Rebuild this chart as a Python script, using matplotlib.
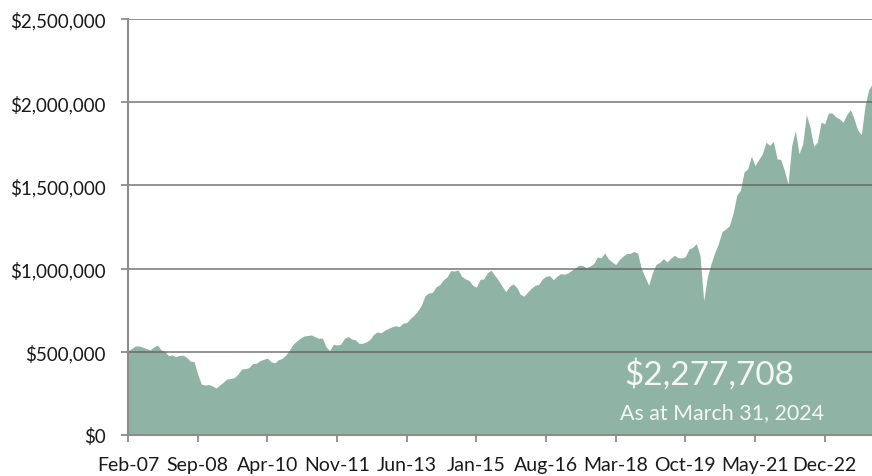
import matplotlib
matplotlib.use("Agg")
import matplotlib.pyplot as plt
from matplotlib.ticker import FuncFormatter

# monthly portfolio value, Feb 2007 .. Mar 2024 (in $000s)
values_k = [
    506, 520, 535, 535, 528, 520, 511, 528, 541, 512, 505, 477,
    481, 471, 478, 479, 467, 443, 442, 365, 306, 300, 303, 295,
    282, 300, 318, 337, 339, 345, 366, 397, 399, 405, 430, 431,
    447, 455, 462, 440, 433, 452, 460, 480, 510, 545, 565, 582,
    595, 598, 601, 591, 581, 583, 530, 507, 545, 541, 545, 580,
    592, 577, 572, 551, 551, 560, 575, 605, 620, 613, 630, 640,
    650, 657, 651, 672, 676, 700, 720, 745, 780, 837, 853, 857,
    891, 903, 932, 950, 988, 985, 992, 954, 938, 929, 900, 888,
    935, 938, 975, 990, 960, 930, 895, 861, 893, 908, 888, 845,
    834, 860, 882, 900, 905, 938, 954, 957, 933, 955, 970, 966,
    974, 990, 1005, 1020, 1018, 1006, 1015, 1030, 1070, 1065, 1094, 1058,
    1040, 1024, 1055, 1075, 1090, 1092, 1103, 1092, 1000, 948, 900, 975,
    1025, 1037, 1060, 1040, 1062, 1080, 1065, 1064, 1072, 1118, 1128, 1150,
    1078, 807, 950, 1030, 1095, 1150, 1222, 1238, 1258, 1330, 1440, 1470,
    1580, 1600, 1675, 1619, 1655, 1690, 1760, 1740, 1765, 1660, 1655, 1590,
    1508, 1739, 1829, 1690, 1749, 1925, 1850, 1735, 1760, 1880, 1870, 1935,
    1935, 1912, 1900, 1880, 1925, 1955, 1900, 1832, 1805, 1979, 2075, 2112,
    2180, 2277.708,
]
values = [v * 1000 for v in values_k]
months = list(range(len(values)))

tick_pos = [0, 19, 38, 57, 76, 95, 114, 133, 152, 171, 190]
tick_labels = ["Feb-07", "Sep-08", "Apr-10", "Nov-11", "Jun-13", "Jan-15",
               "Aug-16", "Mar-18", "Oct-19", "May-21", "Dec-22"]
y_ticks = [0, 500000, 1000000, 1500000, 2000000, 2500000]

final_value = "$2,277,708"
final_date = "As at March 31, 2024"

plt.rcParams['font.family'] = ['Lato', 'DejaVu Sans']

fig = plt.figure(figsize=(8.72, 4.77), dpi=100)
ax = fig.add_axes([128 / 872, 41 / 477, 751.7 / 872, 416 / 477])

fill_col = "#8fb3a4"
ax.fill_between(months, values, 0, color=fill_col, lw=0, zorder=1)

# gridlines sit on top of the area
for yv in y_ticks[1:]:
    ax.axhline(yv, color="#5e5e5e", alpha=0.72, lw=1.3, zorder=3)

ax.set_xlim(0, len(values) - 1)
ax.set_ylim(0, 2500000)
ax.set_xticks(tick_pos)
ax.set_xticklabels(tick_labels)
ax.set_yticks(y_ticks)
ax.yaxis.set_major_formatter(FuncFormatter(lambda v, p: "${:,.0f}".format(v)))

for s in ["top", "right"]:
    ax.spines[s].set_visible(False)
for s in ["left", "bottom"]:
    ax.spines[s].set_color("#8c8c8c")
    ax.spines[s].set_linewidth(1.5)
    ax.spines[s].set_zorder(4)
ax.tick_params(axis="both", colors="#8c8c8c", width=1.3, length=5,
               labelcolor="#1a1a1a")
ax.tick_params(axis="x", pad=10, labelsize=14)
ax.tick_params(axis="y", pad=11, labelsize=13.5)

fig.text(0.813, 0.214, final_value, ha="center", va="center",
         fontsize=24, color="#f4f7f5", zorder=5)
fig.text(0.828, 0.134, final_date, ha="center", va="center",
         fontsize=15.4, color="#f4f7f5", zorder=5)

fig.savefig("out.png", dpi=100)
